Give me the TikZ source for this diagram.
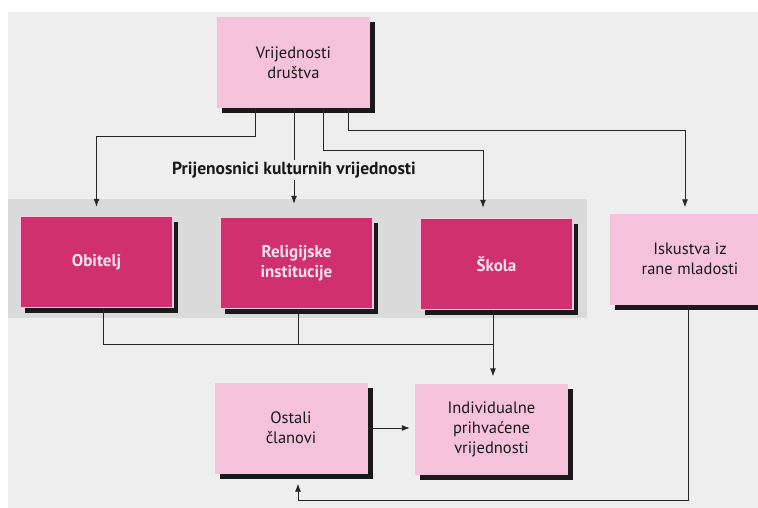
\documentclass[tikz,border=0pt]{standalone}
\usepackage{fontspec}
\setmainfont{PT Sans}
\usetikzlibrary{arrows.meta}
\definecolor{pagebg}{HTML}{EEEEEE}
\definecolor{bandbg}{HTML}{DADADA}
\definecolor{darkpink}{HTML}{D0306E}
\definecolor{lightpink}{HTML}{F5C2DB}
\definecolor{rimpink}{HTML}{F7CCE0}
\definecolor{whitetext}{HTML}{FBE3EE}
\tikzset{
  basebox/.style={minimum width=153pt, minimum height=91pt, inner sep=0pt, align=center,
    font=\fontsize{16.5}{20}\selectfont,
    preaction={fill=black!90, transform canvas={xshift=5pt, yshift=-5pt}}},
  lightbox/.style={basebox, fill=lightpink, text=black!90},
  darkbox/.style={basebox, fill=darkpink, draw=rimpink, line width=1.5pt, text=whitetext,
    font=\fontsize{17}{20.5}\selectfont\bfseries},
  conn/.style={line width=0.9pt, black!85},
  arr/.style={conn, -{Latex[length=8pt,width=6pt]}},
}
\begin{document}
\begin{tikzpicture}[x=1pt,y=-1pt]
  \useasboundingbox (0,0) rectangle (758,508);
  \fill[white] (0,0) rectangle (758,508);
  \fill[pagebg] (8,12) rectangle (758,508);
  \fill[bandbg] (8,199) rectangle (587,318);

  \node[lightbox] (vd) at (293.5,62.5) {Vrijednosti\\društva};
  \node[darkbox] (ob) at (96.5,262) {Obitelj};
  \node[darkbox] (rel) at (296.5,263) {Religijske\\institucije};
  \node[darkbox] (sk) at (496.5,264) {Škola};
  \node[lightbox, minimum width=160pt] (isk) at (690,259) {Iskustva iz\\rane mladosti};
  \node[lightbox] (ost) at (291,428) {Ostali\\članovi};
  \node[lightbox] (ind) at (491.5,429) {Individualne\\prihvaćene\\vrijednosti};

  \node[font=\fontsize{17.5}{20}\selectfont\bfseries, text=black!90, fill=pagebg, inner sep=2pt] (lbl) at (294,170) {Prijenosnici kulturnih vrijednosti};

  % from Vrijednosti drustva
  \draw[arr, shorten >=9pt] ([xshift=-38.5pt]vd.south) -- ++(0,28.5) -| (ob.north);
  \draw[conn] (vd.south -| lbl.north) -- (lbl.north);
  \draw[arr, shorten >=13pt] (lbl.south) -- (lbl.south |- rel.north);
  \draw[arr, shorten >=10pt] ([xshift=29.5pt]vd.south) -- ++(0,42.5) -| ([xshift=-13.5pt]sk.north);
  \draw[arr, shorten >=6pt] ([xshift=54.5pt]vd.south) -- ++(0,22.5) -| ([xshift=-5pt]isk.north);

  % to Individualne
  \coordinate (join) at (493,344);
  \draw[conn] ([xshift=6.5pt]ob.south) |- (join);
  \draw[conn] ([xshift=1.5pt]rel.south) -- (rel.south -| 298,0) |- (join);
  \draw[arr, shorten >=7pt] ([xshift=-3.5pt]sk.south) -- ([xshift=1.5pt]ind.north);

  % Ostali -> Individualne
  \draw[arr, shorten <=5pt, shorten >=5pt] (ost.east) -- (ost.east -| ind.west);

  % Iskustva -> Ostali
  \coordinate (bot) at (688,500);
  \draw[arr, shorten >=10pt] ([xshift=-2pt]isk.south) -- (bot) -| ([xshift=7pt]ost.south);
\end{tikzpicture}
\end{document}
